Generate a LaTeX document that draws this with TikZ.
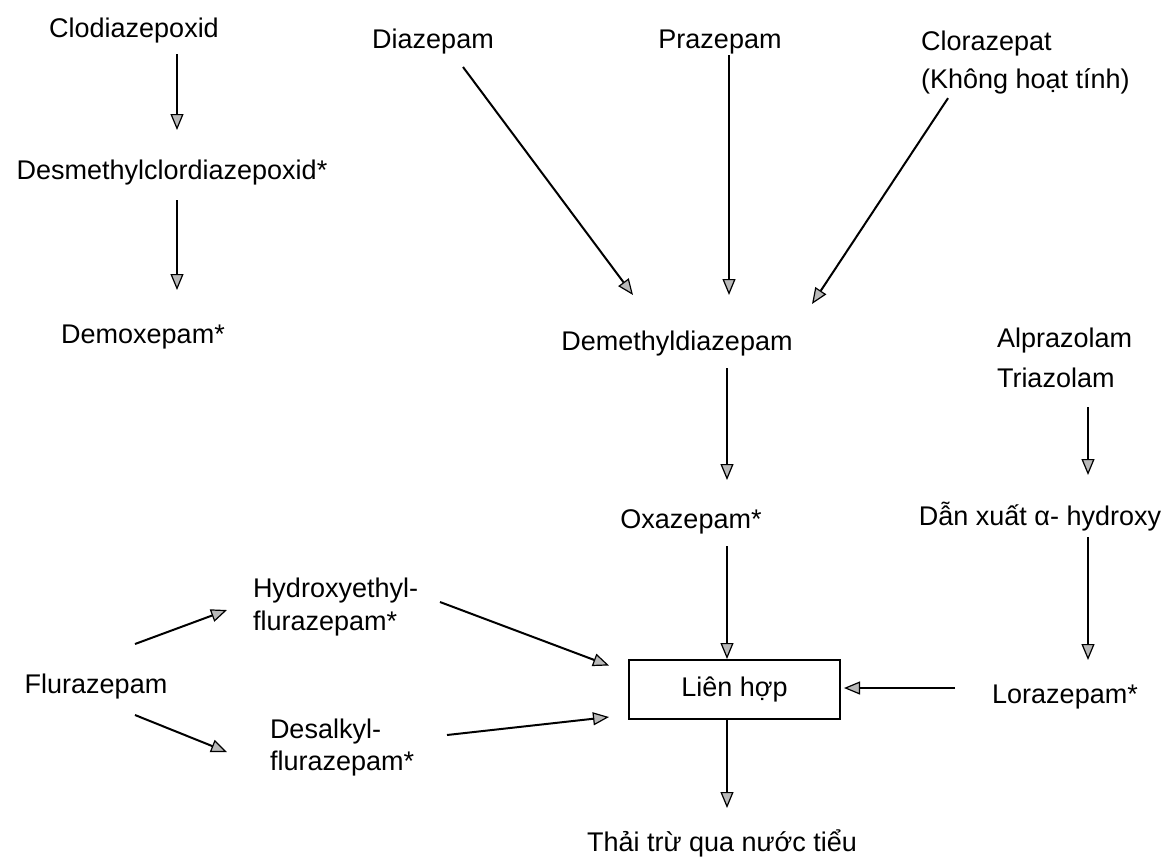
\documentclass[tikz,border=0pt]{standalone}
\usepackage{fontspec}
\setmainfont{Liberation Sans}
\usetikzlibrary{arrows.meta,calc}
\tikzset{
  lbl/.style={font=\fontsize{27}{33}\selectfont, inner sep=0pt, outer sep=0pt},
  arr/.style={line width=2pt, -{Triangle[length=16pt,width=13pt,fill=gray!55,line width=1.2pt]}},
  lhbox/.style={draw, line width=2pt, minimum width=211pt, minimum height=59pt, inner sep=0pt, font=\fontsize{27}{33}\selectfont}
}
\begin{document}
\begin{tikzpicture}[x=1pt,y=-1pt]
\useasboundingbox (0,0) rectangle (1172,863);
% nodes
\node[lbl, anchor=base] (clo) at (134,37) {Clodiazepoxid};
\node[lbl, anchor=base] (desm) at (172,179) {Desmethylclordiazepoxid*};
\node[lbl, anchor=base] (demox) at (143,343) {Demoxepam*};
\node[lbl, anchor=base] (dia) at (433,48) {Diazepam};
\node[lbl, anchor=base] (pra) at (720,48) {Prazepam};
\node[lbl, anchor=north west, align=left, font=\fontsize{27}{38}\selectfont] (clor) at (921,31) {Clorazepat\\(Không hoạt tính)};
\node[lbl, anchor=base] (demeth) at (677,350) {Demethyldiazepam};
\node[lbl, anchor=base] (oxa) at (691,528) {Oxazepam*};
\node[lhbox] (lh) at (734.5,689.5) {Liên hợp};
\node[lbl, anchor=base] (thai) at (722,851) {Thải trừ qua nước tiểu};
\node[lbl, anchor=north west, align=left, font=\fontsize{27}{40}\selectfont] (alp) at (997,327.5) {Alprazolam\\Triazolam};
\node[lbl, anchor=base] (dan) at (1040,525) {Dẫn xuất α- hydroxy};
\node[lbl, anchor=base] (lora) at (1065,703) {Lorazepam*};
\node[lbl, anchor=base] (flu) at (96,693) {Flurazepam};
\node[lbl, anchor=north west, align=left, font=\fontsize{27}{33}\selectfont] (hyd) at (253,577.5) {Hydroxyethyl-\\flurazepam*};
\node[lbl, anchor=north west, align=left, font=\fontsize{27}{32}\selectfont] (des) at (270,718.5) {Desalkyl-\\flurazepam*};
% connectors
\draw[arr] ($(clo.base)+(43,17)$) -- ($(desm.base)+(5,-49)$);
\draw[arr] ($(desm.base)+(5,21)$) -- ($(demox.base)+(34,-53)$);
\draw[arr] ($(dia.base)+(30,19)$) -- ($(demeth.base)+(-44,-55)$);
\draw[arr] ($(pra.base)+(9,7)$) -- ($(demeth.base)+(52,-55)$);
\draw[arr] ($(clor.south west)+(27,4)$) -- ($(demeth.base)+(135,-46)$);
\draw[arr] ($(demeth.base)+(50,18)$) -- ($(oxa.base)+(36,-48)$);
\draw[arr] ($(oxa.base)+(36,18)$) -- ($(lh.north)+(-7.5,0)$);
\draw[arr] ($(lh.south)+(-7.5,0)$) -- ($(thai.base)+(5,-43)$);
\draw[arr] ($(alp.south west)+(91,20)$) -- ($(dan.base)+(48,-50)$);
\draw[arr] ($(dan.base)+(48,12)$) -- ($(lora.base)+(23,-43)$);
\draw[arr] ($(lora.base)+(-110,-15)$) -- ($(lh.east)+(3,-1.5)$);
\draw[arr] ($(flu.base)+(39,-49)$) -- ($(hyd.north west)+(-26,32.5)$);
\draw[arr] ($(flu.base)+(39,22)$) -- ($(des.north west)+(-43,33.5)$);
\draw[arr] ($(hyd.north west)+(187,24.5)$) -- ($(lh.west)+(-19,-24)$);
\draw[arr] ($(des.north west)+(177,16.5)$) -- ($(lh.west)+(-19,27.5)$);
\end{tikzpicture}
\end{document}
